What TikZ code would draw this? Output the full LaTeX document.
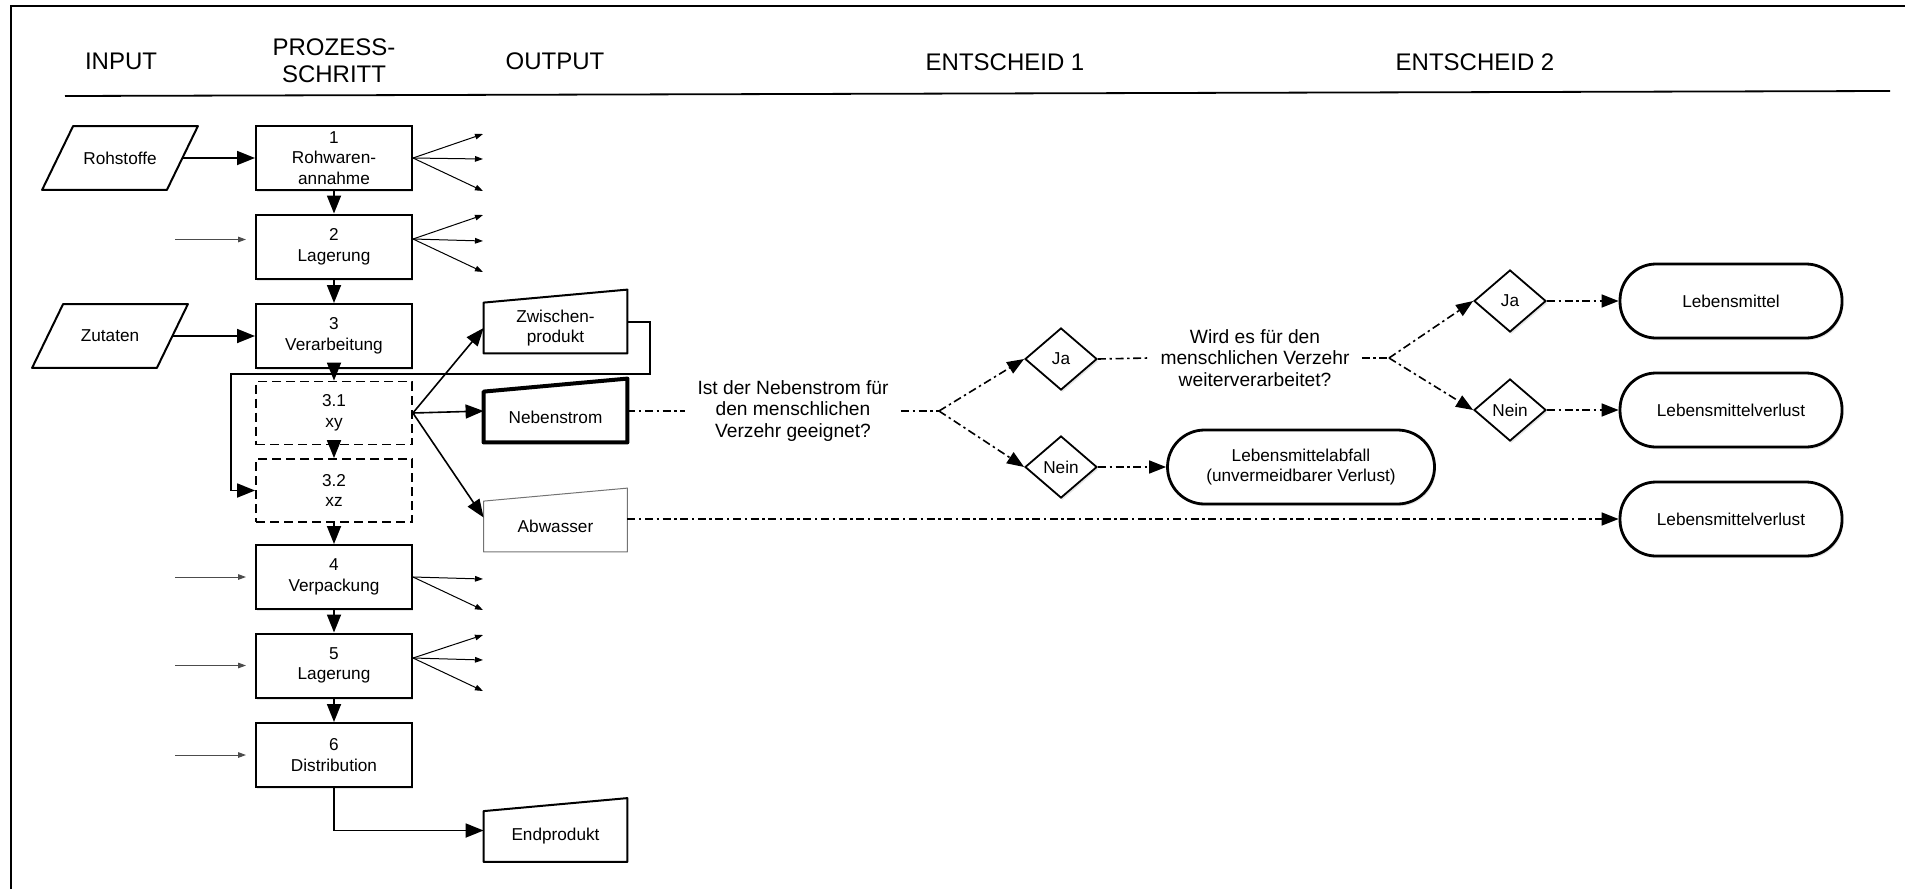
\documentclass[tikz,border=0pt]{standalone}
\usepackage{fontspec}
\setmainfont{Liberation Sans}
\usetikzlibrary{calc, shapes.geometric, arrows.meta, shadows}

\newcommand{\boxfont}{\fontsize{8.6}{10.3}\selectfont}

\tikzset{
    outbox/.style={rectangle, minimum width=71.5pt, minimum height=25pt,
        inner sep=1pt, align=center, font=\boxfont,
        append after command={\pgfextra{
            \draw[line width=1pt, line join=round, #1] (\tikzlastnode.south west)
                -- (\tikzlastnode.south east) -- ([yshift=6.5pt]\tikzlastnode.north east)
                -- (\tikzlastnode.north west) -- cycle;}}},
    outbox/.default={},
    inbox/.style={rectangle, minimum width=62pt, minimum height=31.5pt,
        inner sep=1pt, align=center, font=\boxfont,
        append after command={\pgfextra{
            \draw[line width=1pt, line join=round] ([xshift=-7.75pt]\tikzlastnode.south west)
                -- ([xshift=-7.75pt]\tikzlastnode.south east)
                -- ([xshift=7.75pt]\tikzlastnode.north east)
                -- ([xshift=7.75pt]\tikzlastnode.north west) -- cycle;}}},
}

\begin{document}
\begin{tikzpicture}[x=.5pt, y=-.5pt]
    \tikzstyle{softshadow} = [drop shadow={opacity=.2, shadow xshift=.7pt,
        shadow yshift=-1.1pt}]
    \tikzstyle{header} = [align=center, font=\fontsize{12}{13.5}\selectfont]
    \tikzstyle{procbox} = [rectangle, draw, line width=1pt, fill=white, softshadow,
        minimum width=78pt, minimum height=32pt, inner sep=0pt, align=center,
        font=\boxfont]
    \tikzstyle{subbox} = [rectangle, draw, line width=.9pt, fill=white,
        dash pattern=on 4.5pt off 2.5pt, minimum width=78pt, minimum height=31.5pt,
        inner sep=0pt, align=center, font=\boxfont]
    \tikzstyle{question} = [align=center, inner sep=6pt,
        font=\fontsize{9.6}{10.6}\selectfont]
    \tikzstyle{decision} = [diamond, draw, line width=.9pt, fill=white, softshadow,
        aspect=1.16, minimum width=36pt, minimum height=31pt, inner sep=0pt,
        font=\boxfont]
    \tikzstyle{terminal} = [rectangle, rounded corners=18pt, draw, line width=1.4pt,
        fill=white, softshadow, minimum width=111pt, minimum height=37pt,
        align=center, font=\boxfont]
    \tikzstyle{flow} = [line width=.9pt, -{Triangle[length=9pt, width=7pt]}]
    \tikzstyle{thinflow} = [line width=.5pt, -{Triangle[length=4pt, width=2.8pt]}]
    \tikzstyle{feed} = [line width=.5pt, black!70, -{Triangle[length=4pt, width=2.8pt]}]
    \tikzstyle{dashflow} = [line width=.8pt,
        dash pattern=on 4pt off 1.8pt on 1.2pt off 1.8pt]
    \tikzstyle{dasharrow} = [dashflow, -{Triangle[length=8.5pt, width=6.5pt]}]

    \useasboundingbox (0,0) rectangle (1905,889);

    % Frame and headers ---------------------------------
    \draw[line width=1pt] (11,889) -- (11,6) -- (1905,6);
    \draw[line width=.9pt] (65,96) -- (1890,91);

    \node (hIn) at (121,61) [header] {INPUT};
    \node (hStep) at (334,61) [header] {PROZESS-\\SCHRITT};
    \node (hOut) at (555,61) [header] {OUTPUT};
    \node (hE1) at (1005,62) [header] {ENTSCHEID 1};
    \node (hE2) at (1475,62) [header] {ENTSCHEID 2};

    % Process steps -------------------------------------
    \node (s1) at (334,158) [procbox] {1\\Rohwaren-\\annahme};
    \node (s2) at ($(s1) + (0,88.5)$) [procbox] {2\\Lagerung};
    \node (s3) at ($(s2) + (0,89.5)$) [procbox] {3\\Verarbeitung};
    \node (s31) at ($(s3) + (0,77)$) [subbox] {3.1\\xy};
    \node (s32) at ($(s31) + (0,77.5)$) [subbox] {3.2\\xz};
    \node (s4) at ($(s32) + (0,86.5)$) [procbox] {4\\Verpackung};
    \node (s5) at ($(s4) + (0,88.5)$) [procbox] {5\\Lagerung};
    \node (s6) at ($(s5) + (0,89.5)$) [procbox] {6\\Distribution};

    \draw[flow] (s1) -- (s2);
    \draw[flow] (s2) -- (s3);
    \draw[flow] (s3) -- (s31);
    \draw[flow] (s31) -- (s32);
    \draw[flow] (s32) -- (s4);
    \draw[flow] (s4) -- (s5);
    \draw[flow] (s5) -- (s6);

    % Inputs
    \node (rohstoffe) at (120,158) [inbox] {Rohstoffe};
    \node (zutaten) at (110,336) [inbox] {Zutaten};

    \draw[flow] (rohstoffe) -- (s1);
    \draw[flow] (zutaten) -- (s3);

    \draw[feed] ($([yshift=3.5pt]s2.west) + (-80,0)$) -- ($([yshift=3.5pt]s2.west) + (-9,0)$);
    \draw[feed] ($(s4.west) + (-80,0)$) -- ($(s4.west) + (-9,0)$);
    \draw[feed] ($(s5.west) + (-80,0)$) -- ($(s5.west) + (-9,0)$);
    \draw[feed] ($(s6.west) + (-80,0)$) -- ($(s6.west) + (-9,0)$);

    % small outputs
    \draw[thinflow] (s1.east) -- ++(70,-24);
    \draw[thinflow] (s1.east) -- ++(70,1);
    \draw[thinflow] (s1.east) -- ++(70,33);
    \draw[thinflow] ([yshift=3.75pt]s2.east) -- ++(70,-24);
    \draw[thinflow] ([yshift=3.75pt]s2.east) -- ++(70,2);
    \draw[thinflow] ([yshift=3.75pt]s2.east) -- ++(70,33);
    \draw[thinflow] (s4.east) -- ++(70,2);
    \draw[thinflow] (s4.east) -- ++(70,33);
    \draw[thinflow] ([yshift=3.75pt]s5.east) -- ++(70,-23);
    \draw[thinflow] ([yshift=3.75pt]s5.east) -- ++(70,2);
    \draw[thinflow] ([yshift=3.75pt]s5.east) -- ++(70,33);

    % Outputs -------------------------------------------
    \node (zw) at (555.5,328) [outbox] {Zwischen-\\produkt};
    \node (neben) at (555.5,417) [outbox={line width=2pt}] {Nebenstrom};
    \node (abw) at (555.5,526.5) [outbox={line width=.5pt, black!55}] {Abwasser};
    \node (endprod) at (555.5,836.5) [outbox] {Endprodukt};

    \draw[flow, line width=.8pt] (s31.east) -- (zw.west);
    \draw[flow, line width=.8pt] (s31.east) -- ([yshift=3pt]neben.west);
    \draw[flow, line width=.8pt] (s31.east) -- ([yshift=4.5pt]abw.west);
    \draw[flow] (s6.south) |- ([yshift=3pt]endprod.west);

    % loop back to 3.2
    \coordinate (loopR) at (650,374);
    \coordinate (loopL) at (231,374);
    \draw[flow] ([yshift=3pt]zw.east) -| (loopR) -- (loopL) |- (s32.west);

    % Entscheid 1 ---------------------------------------
    \node (q1) at (793,411) [question] {Ist der Nebenstrom für\\den menschlichen\\Verzehr geeignet?};
    \coordinate (c1) at (939,411);
    \node (ja1) at (1061,359) [decision] {Ja};
    \node (nein1) at (1061,467) [decision] {Nein};
    \node (abfall) at (1301,467) [terminal, minimum width=133.5pt, rounded corners=18.5pt]
        {Lebensmittelabfall\\(unvermeidbarer Verlust)};

    \draw[dashflow] (neben.east |- q1.west) -- (q1.west);
    \draw[dashflow] (q1.east) -- (c1);
    \draw[dasharrow] (c1) -- (ja1.west);
    \draw[dasharrow] (c1) -- (nein1.west);
    \draw[dasharrow] (nein1.east) -- (abfall.west);

    % Entscheid 2 ---------------------------------------
    \node (q2) at (1255,358) [question] {Wird es für den\\menschlichen Verzehr\\weiterverarbeitet?};
    \coordinate (c2) at (1389,358);
    \node (ja2) at (1510,301) [decision] {Ja};
    \node (nein2) at (1510,410) [decision] {Nein};
    \node (lm) at (1731,301) [terminal] {Lebensmittel};
    \node (lv1) at (1731,410) [terminal] {Lebensmittelverlust};
    \node (lv2) at (1731,519) [terminal] {Lebensmittelverlust};

    \draw[dashflow] (ja1.east) -- (q2.west);
    \draw[dashflow] (q2.east) -- (c2);
    \draw[dasharrow] (c2) -- (ja2.west);
    \draw[dasharrow] (c2) -- (nein2.west);
    \draw[dasharrow] (ja2.east) -- (lm.west);
    \draw[dasharrow] (nein2.east) -- (lv1.west);
    \draw[dasharrow] (abw.east |- lv2.west) -- (lv2.west);
\end{tikzpicture}
\end{document}
